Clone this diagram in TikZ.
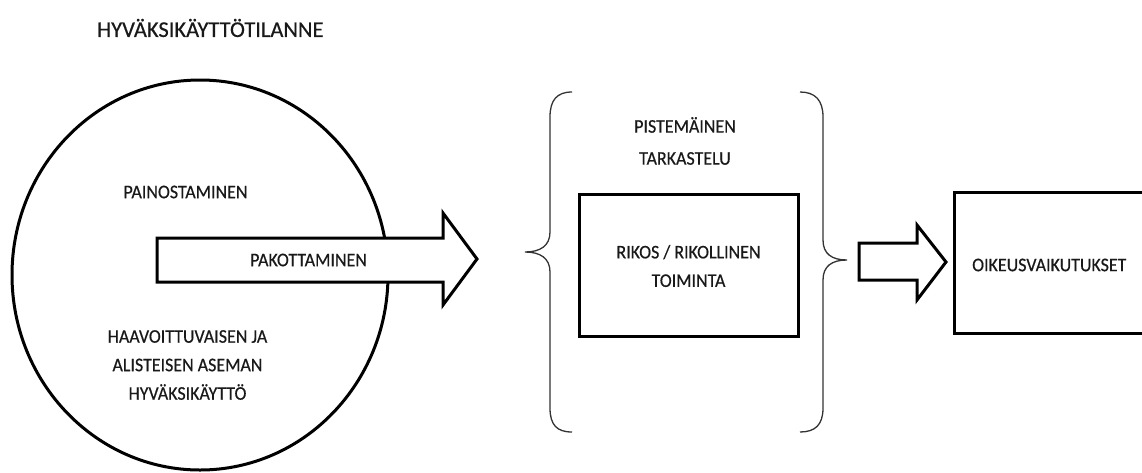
\documentclass[tikz,border=0pt]{standalone}
\usepackage{fontspec}
\setmainfont{Carlito}[FakeBold=0.5]
\newfontfamily\bodyfont{Carlito}[FakeStretch=0.93, FakeBold=0.5]
\begin{document}
\begin{tikzpicture}[x=1pt,y=-1pt,
  lbl/.style={font=\bodyfont\fontsize{19.3}{28.5}\selectfont, text=black!90, align=center, inner sep=0pt},
  thick3/.style={line width=3pt, line join=miter},
  bracestyle/.style={line width=1.3pt, black!80}]
\useasboundingbox (0,0) rectangle (1142,472);
\clip (0,0) rectangle (1142,472);
% title
\node[lbl, font=\rmfamily\fontsize{22.5}{26}\selectfont, anchor=west] (title) at (97,28) {HYVÄKSIKÄYTTÖTILANNE};
% circle
\draw[thick3] (200,275) ellipse [x radius=188, y radius=195];
\coordinate (circ) at (200,275);
\node[lbl] (paino) at (185.5,192) {PAINOSTAMINEN};
\node[lbl] (haav) at (187.5,365) {HAAVOITTUVAISEN JA\\ALISTEISEN ASEMAN\\HYVÄKSIKÄYTTÖ};
% big arrow
\draw[thick3, fill=white] (157,238) -- (443,238) -- (443,213) -- (477,259) -- (443,305) -- (443,282) -- (157,282) -- cycle;
\node[lbl] (pako) at (308.5,260) {PAKOTTAMINEN};
% left brace
\draw[bracestyle] (572,92) .. controls (557,92) and (550,100) .. (550,117) -- (550,232)
  .. controls (550,246) and (540,252) .. (525,252)
  .. controls (540,252) and (550,258) .. (550,272) -- (550,408)
  .. controls (550,425) and (557,432) .. (572,432);
% right brace
\draw[bracestyle] (800,92) .. controls (815,92) and (823,100) .. (823,117) -- (823,240)
  .. controls (823,254) and (832,260) .. (847,260)
  .. controls (832,260) and (823,266) .. (823,280) -- (823,408)
  .. controls (823,425) and (815,432) .. (800,432);
\node[lbl, font=\bodyfont\fontsize{19.3}{32}\selectfont] (piste) at (685,141) {PISTEMÄINEN\\TARKASTELU};
% inner box
\node[draw, thick3, minimum width=219pt, minimum height=142pt, inner sep=0pt] (rikosbox) at (688.5,265) {};
\node[lbl] (rikos) at (688.5,266) {RIKOS / RIKOLLINEN\\TOIMINTA};
% small arrow
\draw[thick3, fill=white] (859,243) -- (917,243) -- (917,225) -- (946,262) -- (917,300) -- (917,280) -- (859,280) -- cycle;
% right box
\draw[thick3] (954,192) rectangle (1160,333);
\coordinate (rbox) at (954,262);
\node[lbl, anchor=west] (oike) at (972,265) {OIKEUSVAIKUTUKSET};
\end{tikzpicture}
\end{document}
